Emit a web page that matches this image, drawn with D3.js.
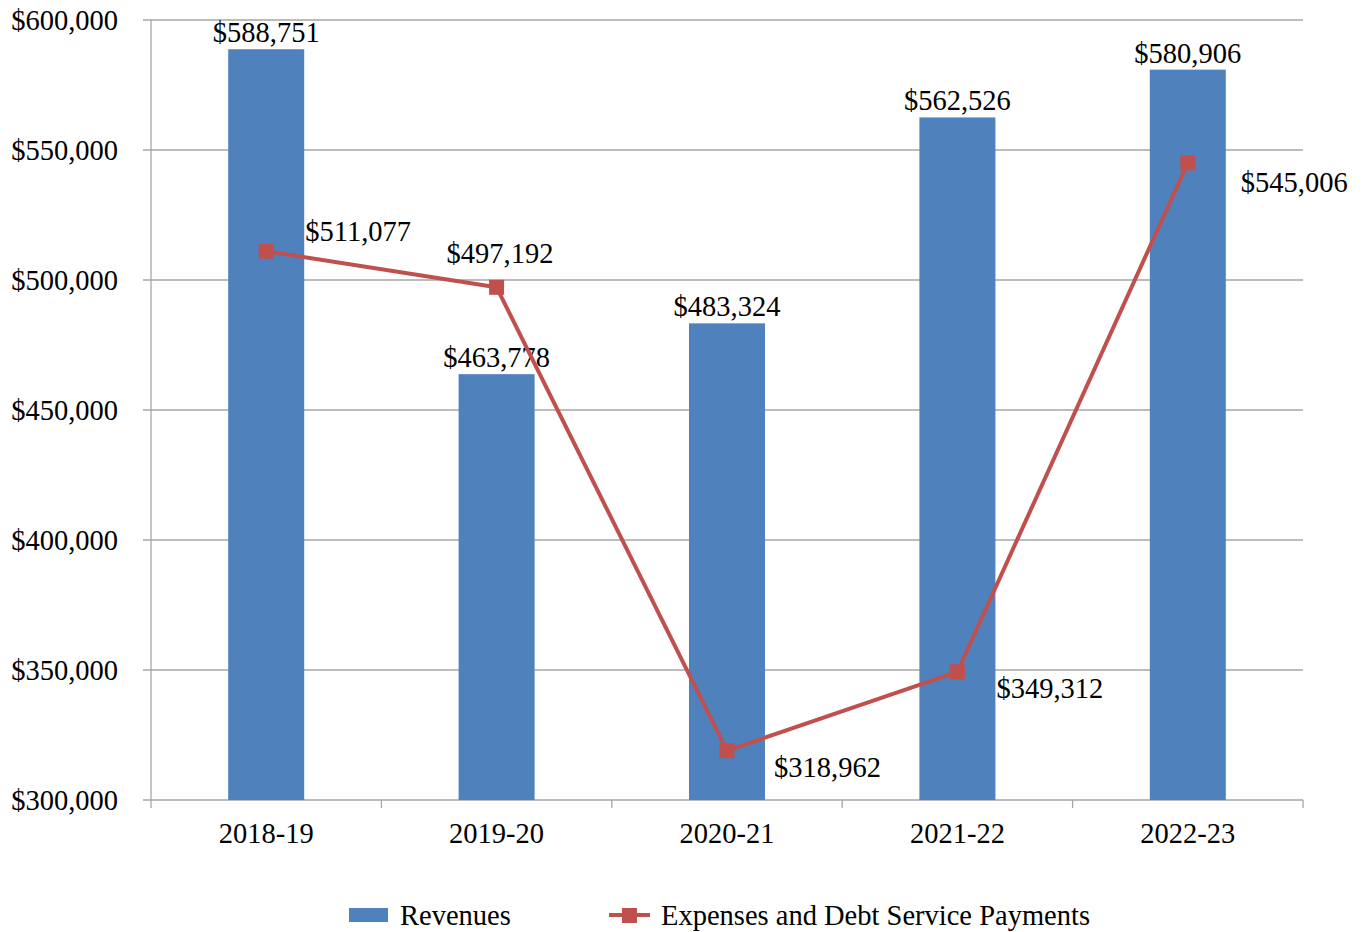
<!DOCTYPE html>
<html>
<head>
<meta charset="utf-8">
<script src="https://cdn.jsdelivr.net/npm/d3@7/dist/d3.min.js"></script>
<style>
  body { margin: 0; background: #fff; }
  svg text { font-family: "Liberation Serif", "Times New Roman", serif; fill: #000; font-size: 28.5px; }
</style>
</head>
<body>
<svg id="chart" width="1364" height="932"></svg>
<script>
// --- data ---
const years = ['2018-19', '2019-20', '2020-21', '2021-22', '2022-23'];
const revenues = [588751, 463778, 483324, 562526, 580906];
const expenses = [511077, 497192, 318962, 349312, 545006];
const yTicks = [300000, 350000, 400000, 450000, 500000, 550000, 600000];

// label placement for the line series (relative to marker)
const expLabelPos = [
  { dx: 39, dy: -20 },
  { dx: -50, dy: -34 },
  { dx: 47, dy: 16 },
  { dx: 39, dy: 16 },
  { dx: 53, dy: 19 },
];

const BLUE = '#4F81BD';
const RED = '#C0504D';
const GRID = '#A6A6A6';

const margin = { left: 151, right: 61, top: 20, bottom: 132 };
const width = 1364, height = 932;

const svg = d3.select('#chart');

const x = d3.scaleBand()
  .domain(years)
  .range([margin.left, width - margin.right]);

const y = d3.scaleLinear()
  .domain([300000, 600000])
  .range([height - margin.bottom, margin.top]);

const fmt = v => '$' + d3.format(',')(v);

// gridlines + y labels
const yAxis = svg.append('g');
yAxis.selectAll('line.grid')
  .data(yTicks)
  .join('line')
  .attr('class', 'grid')
  .attr('x1', margin.left - 8)
  .attr('x2', width - margin.right)
  .attr('y1', d => y(d))
  .attr('y2', d => y(d))
  .attr('stroke', GRID)
  .attr('stroke-width', 1.3);

yAxis.selectAll('text')
  .data(yTicks)
  .join('text')
  .attr('x', 118)
  .attr('y', d => y(d))
  .attr('dy', '0.35em')
  .attr('text-anchor', 'end')
  .text(fmt);

// y axis line
svg.append('line')
  .attr('x1', margin.left).attr('x2', margin.left)
  .attr('y1', y(600000)).attr('y2', y(300000))
  .attr('stroke', GRID).attr('stroke-width', 1.3);

// x axis ticks
const xEdges = years.map(d => x(d)).concat([x(years[years.length - 1]) + x.bandwidth()]);
svg.append('g').selectAll('line')
  .data(xEdges)
  .join('line')
  .attr('x1', d => d).attr('x2', d => d)
  .attr('y1', y(300000)).attr('y2', y(300000) + 8)
  .attr('stroke', GRID).attr('stroke-width', 1.3);

svg.append('g').selectAll('text')
  .data(years)
  .join('text')
  .attr('x', d => x(d) + x.bandwidth() / 2)
  .attr('y', y(300000) + 33)
  .attr('dy', '0.35em')
  .attr('text-anchor', 'middle')
  .text(d => d);

// bars
const barW = 76;
svg.append('g').selectAll('rect')
  .data(revenues)
  .join('rect')
  .attr('x', (d, i) => x(years[i]) + x.bandwidth() / 2 - barW / 2)
  .attr('y', d => y(d))
  .attr('width', barW)
  .attr('height', d => y(300000) - y(d))
  .attr('fill', BLUE);

svg.append('g').selectAll('text')
  .data(revenues)
  .join('text')
  .attr('x', (d, i) => x(years[i]) + x.bandwidth() / 2)
  .attr('y', d => y(d) - 7)
  .attr('text-anchor', 'middle')
  .text(fmt);

// line series
const px = i => x(years[i]) + x.bandwidth() / 2;
const line = d3.line()
  .x((d, i) => px(i))
  .y(d => y(d));

svg.append('path')
  .datum(expenses)
  .attr('d', line)
  .attr('fill', 'none')
  .attr('stroke', RED)
  .attr('stroke-width', 4)
  .attr('stroke-linejoin', 'round');

svg.append('g').selectAll('rect')
  .data(expenses)
  .join('rect')
  .attr('x', (d, i) => px(i) - 7.5)
  .attr('y', d => y(d) - 7.5)
  .attr('width', 15)
  .attr('height', 15)
  .attr('fill', RED);

svg.append('g').selectAll('text')
  .data(expenses)
  .join('text')
  .attr('x', (d, i) => px(i) + expLabelPos[i].dx)
  .attr('y', (d, i) => y(d) + expLabelPos[i].dy)
  .attr('dy', '0.35em')
  .text(fmt);

// legend
const lg = svg.append('g');
lg.append('rect')
  .attr('x', 349).attr('y', 908)
  .attr('width', 39).attr('height', 14)
  .attr('fill', BLUE);
lg.append('text')
  .attr('x', 400).attr('y', 915)
  .attr('dy', '0.35em')
  .text('Revenues');

lg.append('line')
  .attr('x1', 609).attr('x2', 650)
  .attr('y1', 915).attr('y2', 915)
  .attr('stroke', RED).attr('stroke-width', 4);
lg.append('rect')
  .attr('x', 622).attr('y', 908)
  .attr('width', 15).attr('height', 15)
  .attr('fill', RED);
lg.append('text')
  .attr('x', 661).attr('y', 915)
  .attr('dy', '0.35em')
  .text('Expenses and Debt Service Payments');
</script>
</body>
</html>
